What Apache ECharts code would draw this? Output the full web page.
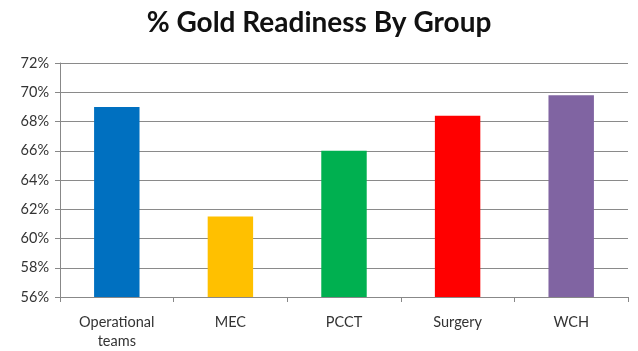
<!DOCTYPE html>
<html><head><meta charset="utf-8">
<script src="https://cdn.jsdelivr.net/npm/echarts@6/dist/echarts.min.js"></script>
<style>html,body{margin:0;padding:0;background:#fff}#c{width:638px;height:351px}</style>
</head><body><div id="c"></div>
<script>
const categories = ["Operational\nteams", "MEC", "PCCT", "Surgery", "WCH"];
const values = [69.0, 61.5, 66.0, 68.4, 69.8];
const colors = ["#0070C0", "#FFC000", "#00B050", "#FF0000", "#8064A2"];
const yMin = 56, yMax = 72, yStep = 2;

const chart = echarts.init(document.getElementById('c'), null, {renderer: 'canvas'});
chart.setOption({
  backgroundColor: '#fff',
  animation: false,
  title: {
    text: '% Gold Readiness By Group',
    left: 'center', top: 4,
    textStyle: {fontFamily: 'Lato', fontWeight: 'bold', fontSize: 28, color: '#111'}
  },
  grid: {left: 60, right: 10, top: 63, bottom: 51, containLabel: false},
  xAxis: {
    type: 'category',
    data: categories,
    axisLine: {lineStyle: {color: '#888', width: 1}},
    axisTick: {show: true, alignWithLabel: false, length: 5, lineStyle: {color: '#888'}},
    axisLabel: {fontFamily: 'Lato', fontSize: 14.5, color: '#333', margin: 16, lineHeight: 19},
    splitLine: {show: false}
  },
  yAxis: {
    type: 'value', min: yMin, max: yMax, interval: yStep,
    axisLine: {show: true, lineStyle: {color: '#888', width: 1}},
    axisTick: {show: true, length: 5, inside: false, lineStyle: {color: '#888'}},
    axisLabel: {formatter: v => v + '%', fontFamily: 'Lato', fontSize: 14.5, color: '#333', margin: 11},
    splitLine: {lineStyle: {color: '#8a8a8a', width: 1}}
  },
  series: [{
    type: 'bar',
    data: values.map((v, i) => ({value: v, itemStyle: {color: colors[i]}})),
    barCategoryGap: '60%'
  }]
});
</script></body></html>
